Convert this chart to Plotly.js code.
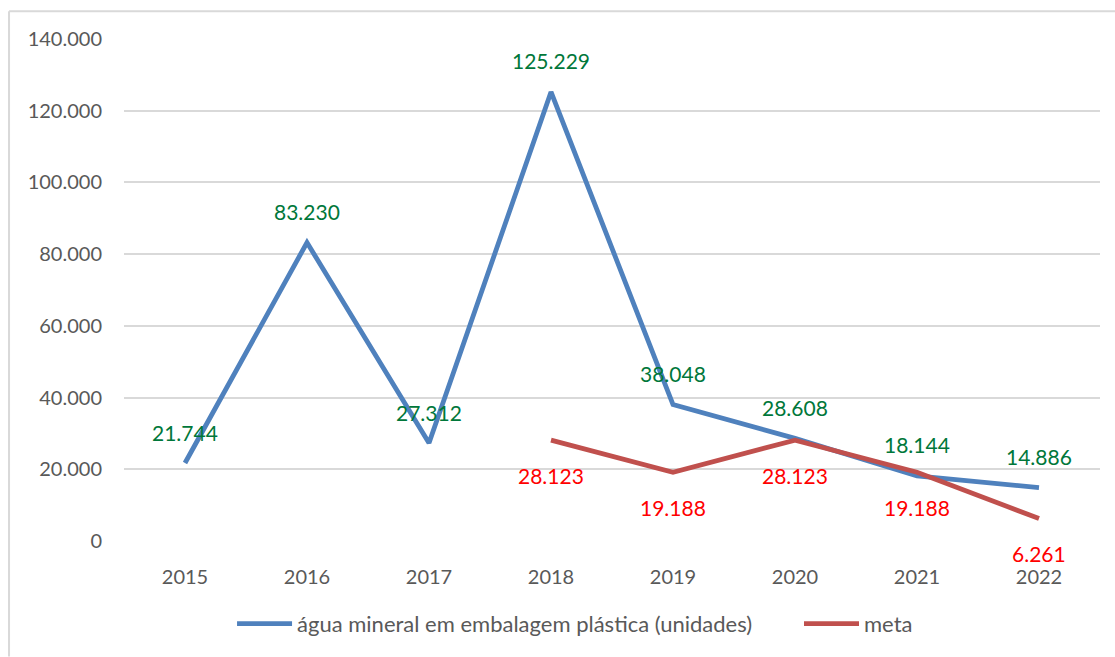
<!DOCTYPE html>
<html>
<head>
<meta charset="utf-8">
<script src="https://cdn.plot.ly/plotly-3.0.1.min.js"></script>
<style>
html,body{margin:0;padding:0;background:#fff;}
#chart{width:1115px;height:657px;}
</style>
</head>
<body>
<div id="chart"></div>
<script>
const years = ['2015','2016','2017','2018','2019','2020','2021','2022'];
const agua = [21744, 83230, 27312, 125229, 38048, 28608, 18144, 14886];
const metaYears = ['2018','2019','2020','2021','2022'];
const meta = [28123, 19188, 28123, 19188, 6261];
const yTicks = [0, 20000, 40000, 60000, 80000, 100000, 120000, 140000];
const yTickText = ['0','20.000','40.000','60.000','80.000','100.000','120.000','140.000'];

function fmt(v){ return v.toString().replace(/\B(?=(\d{3})+(?!\d))/g, '.'); }

const FONT = 'Lato, sans-serif';

const traces = [
  {x: years, y: agua, type:'scatter', mode:'lines', name:'água mineral em embalagem plástica (unidades)',
   line:{color:'#4F81BD', width:4.8}, legend:'legend'},
  {x: metaYears, y: meta, type:'scatter', mode:'lines', name:'meta',
   line:{color:'#C0504D', width:4.8}, legend:'legend2'}
];

const annotations = [];
years.forEach(function(yr,i){ annotations.push({xref:'x', yref:'y', x:years.indexOf(yr), y:agua[i], text:fmt(agua[i]), showarrow:false,
  yshift:31, font:{family:FONT, size:21, color:'#00773A'}}); });
metaYears.forEach(function(yr,i){ annotations.push({xref:'x', yref:'y', x:years.indexOf(yr), y:meta[i], text:fmt(meta[i]), showarrow:false,
  yshift:-35, font:{family:FONT, size:21, color:'#FF0000'}}); });

const legendCommon = {orientation:'h', xanchor:'left', y:-0.165, yanchor:'middle',
    font:{family:FONT, size:22, color:'#595959'}, itemwidth:55, bgcolor:'rgba(0,0,0,0)'};

const layout = {
  width:1115, height:657,
  margin:{l:124, r:15, t:39, b:112},
  paper_bgcolor:'#fff', plot_bgcolor:'#fff',
  font:{family:FONT, size:20, color:'#595959'},
  showlegend:true,
  legend: Object.assign({}, legendCommon, {x:0.1107}),
  legend2: Object.assign({}, legendCommon, {x:0.6916}),
  xaxis:{type:'category', categoryarray:years, categoryorder:'array', range:[-0.5,7.5], showgrid:false, zeroline:false, showline:false,
    ticks:'outside', ticklen:18, tickcolor:'rgba(0,0,0,0)', tickfont:{size:20, color:'#595959'}, fixedrange:true},
  yaxis:{range:[0,140000], tickvals:yTicks, ticktext:yTickText, showgrid:true, gridcolor:'#D9D9D9', gridwidth:2,
    zeroline:false, showline:false, ticks:'outside', ticklen:17, tickcolor:'rgba(0,0,0,0)',
    tickfont:{size:20, color:'#595959'}, fixedrange:true},
  annotations: annotations,
  shapes:[
    {type:'line', xref:'paper', yref:'paper', x0:-0.1178, x1:1.02, y0:1.0553, y1:1.0553, line:{color:'#D9D9D9', width:2}},
    {type:'line', xref:'paper', yref:'paper', x0:-0.1178, x1:-0.1178, y0:1.0553, y1:-0.23, line:{color:'#D9D9D9', width:2}}
  ]
};

Plotly.newPlot('chart', traces, layout, {displayModeBar:false});
</script>
</body>
</html>
